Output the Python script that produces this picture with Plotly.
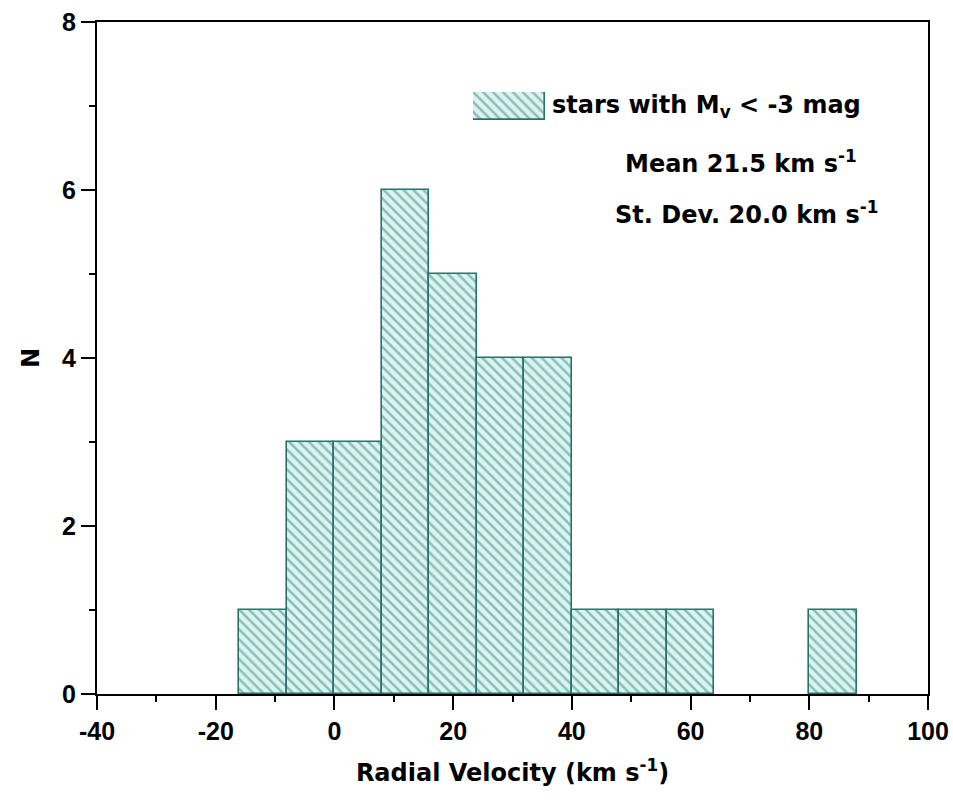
import plotly.graph_objects as go

# Histogram data: bin edges (km/s) and counts
bin_left = [-16, -8, 0, 8, 16, 24, 32, 40, 48, 56, 64, 72, 80]
bin_width = 8
counts = [1, 3, 3, 6, 5, 4, 4, 1, 1, 1, 0, 0, 1]

x_ticks = [-40, -20, 0, 20, 40, 60, 80, 100]
y_ticks = [0, 2, 4, 6, 8]

legend_label = "stars with M<sub>v</sub> &lt; -3 mag"
stats_lines = ["Mean 21.5 km s<sup>-1</sup>", "St. Dev. 20.0 km s<sup>-1</sup>"]

TEAL = "#2a716b"
FG = "#3a827c"
BG = "#daf5f1"

centers = [l + bin_width / 2 for l in bin_left]
xs = [c for c, n in zip(centers, counts) if n > 0]
ys = [n for n in counts if n > 0]

PATTERN = dict(shape="\\", fgcolor=FG, bgcolor=BG, size=7, solidity=0.35)

fig = go.Figure()
fig.add_trace(go.Bar(
    x=xs, y=ys, width=bin_width,
    marker=dict(color=BG, line=dict(color=TEAL, width=1.6), pattern=PATTERN),
    showlegend=False,
))

# legend swatch drawn on a small auxiliary axis
fig.add_trace(go.Bar(
    x=[0.5], y=[1], width=1, xaxis="x2", yaxis="y2",
    marker=dict(color=BG, line=dict(color=TEAL, width=1.6), pattern=PATTERN),
    showlegend=False, hoverinfo="skip",
))

TICKFONT = dict(family="Liberation Sans, Arial", size=25, color="black", weight="bold")
TXTFONT = dict(family="DejaVu Sans", size=24, color="black", weight="bold")

fig.update_layout(
    width=953, height=804,
    margin=dict(l=97, r=25, t=22, b=110),
    paper_bgcolor="white", plot_bgcolor="white",
    bargap=0,
    xaxis=dict(range=[-40, 100], tickvals=x_ticks, ticktext=[str(v) for v in x_ticks],
               automargin=False,
               showline=True, linecolor="black", linewidth=2, mirror=True,
               ticks="outside", ticklen=14, tickwidth=2, tickcolor="black",
               minor=dict(ticks="outside", ticklen=6, tickwidth=2, tickcolor="black", dtick=10, tick0=-40),
               showgrid=False, zeroline=False, tickfont=TICKFONT,
               title=dict(text="Radial Velocity (km s<sup>-1</sup>)", font=TXTFONT, standoff=20)),
    yaxis=dict(range=[0, 8], tickvals=y_ticks, ticktext=[str(v) for v in y_ticks],
               automargin=False,
               showline=True, linecolor="black", linewidth=2, mirror=True,
               ticks="outside", ticklen=14, tickwidth=2, tickcolor="black",
               minor=dict(ticks="outside", ticklen=6, tickwidth=2, tickcolor="black", dtick=1, tick0=0),
               showgrid=False, zeroline=False, tickfont=TICKFONT,
               title=dict(text="N", font=TXTFONT, standoff=16)),
    xaxis2=dict(domain=[0.4525, 0.539], range=[0, 1], visible=False, anchor="y2"),
    yaxis2=dict(domain=[0.854, 0.896], range=[0, 1], visible=False, anchor="x2"),
)

fig.add_annotation(text=legend_label, xref="paper", yref="paper",
                   x=(550 - 97) / 831, y=(694 - 106) / 672, xanchor="left", yanchor="middle",
                   showarrow=False, font=TXTFONT)
fig.add_annotation(text=stats_lines[0], xref="paper", yref="paper",
                   x=(623 - 97) / 831, y=(694 - 162) / 672, xanchor="left", yanchor="middle",
                   showarrow=False, font=TXTFONT)
fig.add_annotation(text=stats_lines[1], xref="paper", yref="paper",
                   x=(613 - 97) / 831, y=(694 - 213) / 672, xanchor="left", yanchor="middle",
                   showarrow=False, font=TXTFONT)

fig.write_html("out.html")
